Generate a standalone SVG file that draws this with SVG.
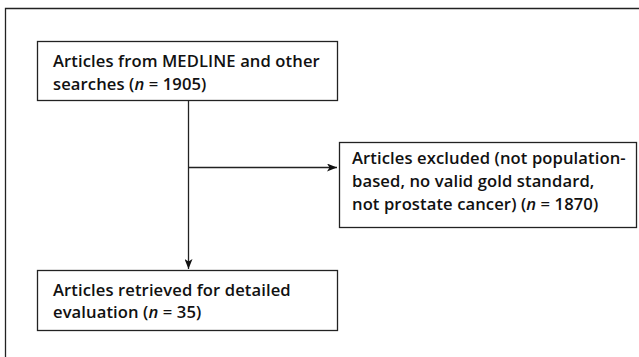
<svg xmlns="http://www.w3.org/2000/svg" width="639" height="357" viewBox="0 0 639 357">
<style>
.box{fill:#fff;stroke:#222;stroke-width:1.3}
.t{font-family:"Open Sans","Liberation Sans",sans-serif;font-size:16.6px;font-weight:600;fill:#111;letter-spacing:0.1px}
.c{fill:none;stroke:#222;stroke-width:1.3}
</style>
<defs>
<marker id="ah" markerWidth="10" markerHeight="8" refX="10" refY="4" orient="auto" markerUnits="userSpaceOnUse">
<path d="M0,0 L10,4 L0,8 L2.5,4 Z" fill="#111"/>
</marker>
</defs>
<rect width="639" height="357" fill="#fff"/>
<path d="M5.5,357 V8.5 H639" fill="none" stroke="#222" stroke-width="1.3"/>
<g id="n1">
<rect class="box" x="37.5" y="41.5" width="300" height="59"/>
<text class="t" x="53" y="67">Articles from MEDLINE and other</text>
<text class="t" x="53" y="90">searches (<tspan font-style="italic">n</tspan> = 1905)</text>
</g>
<g id="n2">
<rect class="box" x="339.5" y="142.5" width="297" height="85"/>
<text class="t" x="352" y="164">Articles excluded (not population-</text>
<text class="t" x="352" y="187">based, no valid gold standard,</text>
<text class="t" x="352" y="210">not prostate cancer) (<tspan font-style="italic">n</tspan> = 1870)</text>
</g>
<g id="n3">
<rect class="box" x="37.5" y="270.5" width="300" height="60"/>
<text class="t" x="53" y="296">Articles retrieved for detailed</text>
<text class="t" x="53" y="318">evaluation (<tspan font-style="italic">n</tspan> = 35)</text>
</g>
<g id="connectors">
<path class="c" d="M188.5,101 V269" marker-end="url(#ah)"/>
<path class="c" d="M188.5,167.5 H337" marker-end="url(#ah)"/>
</g>
</svg>
